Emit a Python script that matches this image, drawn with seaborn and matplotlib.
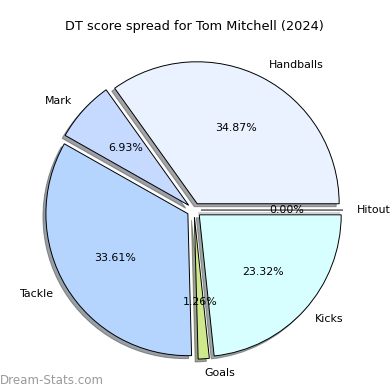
import matplotlib
matplotlib.use("Agg")
import matplotlib.pyplot as plt
import seaborn as sns

categories = ["Handballs", "Mark", "Tackle", "Goals", "Kicks", "Hitout"]
values = [34.87, 6.93, 33.61, 1.26, 23.32, 0.00]
colors = ["#eaf1ff", "#c6d9ff", "#b5d5ff", "#cfe88c", "#d8ffff", "#e0e8ff"]
title = "DT score spread for Tom Mitchell (2024)"
watermark = "Dream-Stats.com"

sns.set_style("white")
plt.rcParams['font.family'] = ['DejaVu Sans']
plt.rcParams['text.color'] = 'black'

fig = plt.figure(figsize=(3.9, 3.9), dpi=100)
ax = fig.add_axes([0.0423, 0.0064, 0.910, 0.910])

ax.pie(values, labels=categories, colors=colors, autopct="%1.2f%%",
       startangle=0, explode=[0.05] * len(values),
       shadow={'ox': -0.015, 'oy': -0.015},
       wedgeprops=dict(edgecolor="black", linewidth=0.7),
       textprops=dict(fontsize=7.9, color="black"))
ax.set_aspect("equal")
ax.set_title(title, fontsize=9.3, pad=2, color="black")

fig.text(0.0, 0.025, watermark, fontsize=8.6, color="#9a9a9a",
         ha="left", va="center")

fig.savefig("out.png", dpi=100)
